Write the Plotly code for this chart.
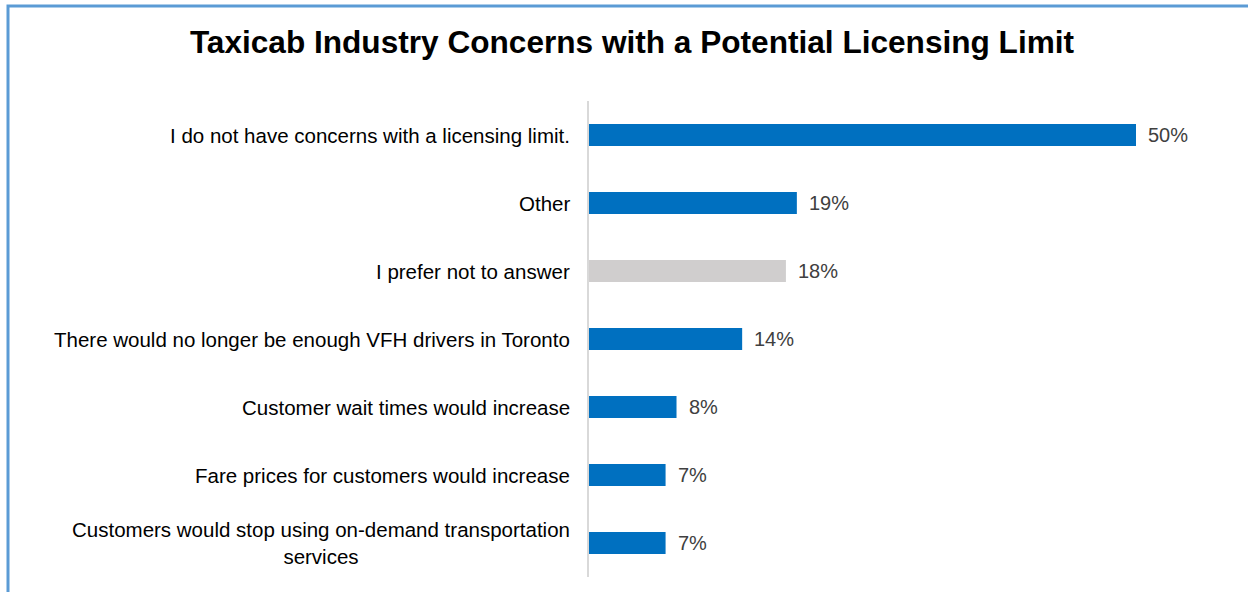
import plotly.graph_objects as go

categories = [
    "I do not have concerns with a licensing limit.",
    "Other",
    "I prefer not to answer",
    "There would no longer be enough VFH drivers in Toronto",
    "Customer wait times would increase",
    "Fare prices for customers would increase",
    "Customers would stop using on-demand transportation<br>services",
]
values = [50, 19, 18, 14, 8, 7, 7]
labels = ["50%", "19%", "18%", "14%", "8%", "7%", "7%"]
colors = ["#0070C0", "#0070C0", "#D0CECE", "#0070C0", "#0070C0", "#0070C0", "#0070C0"]

W, H = 1248, 592
x0px, x1px = 589, 1200
scale = 10.94
y_top, y_bot = 101, 577
FONT = "Liberation Sans, Arial"

fig = go.Figure(go.Bar(
    x=values, y=categories, orientation="h",
    marker=dict(color=colors, line=dict(width=0)),
    width=0.32, hoverinfo="skip",
))

annotations = []
for c, v, t in zip(categories, values, labels):
    annotations.append(dict(x=v, y=c, xref="x", yref="y", text=t, showarrow=False,
                            xanchor="left", xshift=10,
                            font=dict(size=20, color="#404040", family=FONT)))
    annotations.append(dict(x=(x0px - 17) / W, y=c, xref="paper", yref="y", text=c,
                            showarrow=False, xanchor="right", align="center",
                            font=dict(size=20.5, color="#000000", family=FONT)))

fig.update_layout(
    width=W, height=H,
    margin=dict(l=0, r=0, t=0, b=0),
    paper_bgcolor="white", plot_bgcolor="white",
    showlegend=False,
    title=dict(text="<b>Taxicab Industry Concerns with a Potential Licensing Limit</b>",
               x=632 / W, xanchor="center", y=1 - 42 / H, yanchor="middle",
               font=dict(size=31.6, color="#000000", family=FONT)),
    xaxis=dict(domain=[x0px / W, x1px / W], range=[0, (x1px - x0px) / scale],
               showgrid=False, zeroline=False, showticklabels=False, showline=False),
    yaxis=dict(domain=[1 - y_bot / H, 1 - y_top / H], autorange="reversed",
               showticklabels=False, showgrid=False, zeroline=False,
               showline=True, linecolor="#D9D9D9", linewidth=2),
    annotations=annotations,
    shapes=[dict(type="rect", xref="paper", yref="paper",
                 x0=8 / W, x1=1.05, y0=-0.05, y1=1 - 6 / H,
                 line=dict(color="#5B9BD5", width=3))],
)

fig.write_html("out.html", config={"displayModeBar": False},
               post_script="document.body.style.margin='0px';document.body.style.overflow='hidden';")
